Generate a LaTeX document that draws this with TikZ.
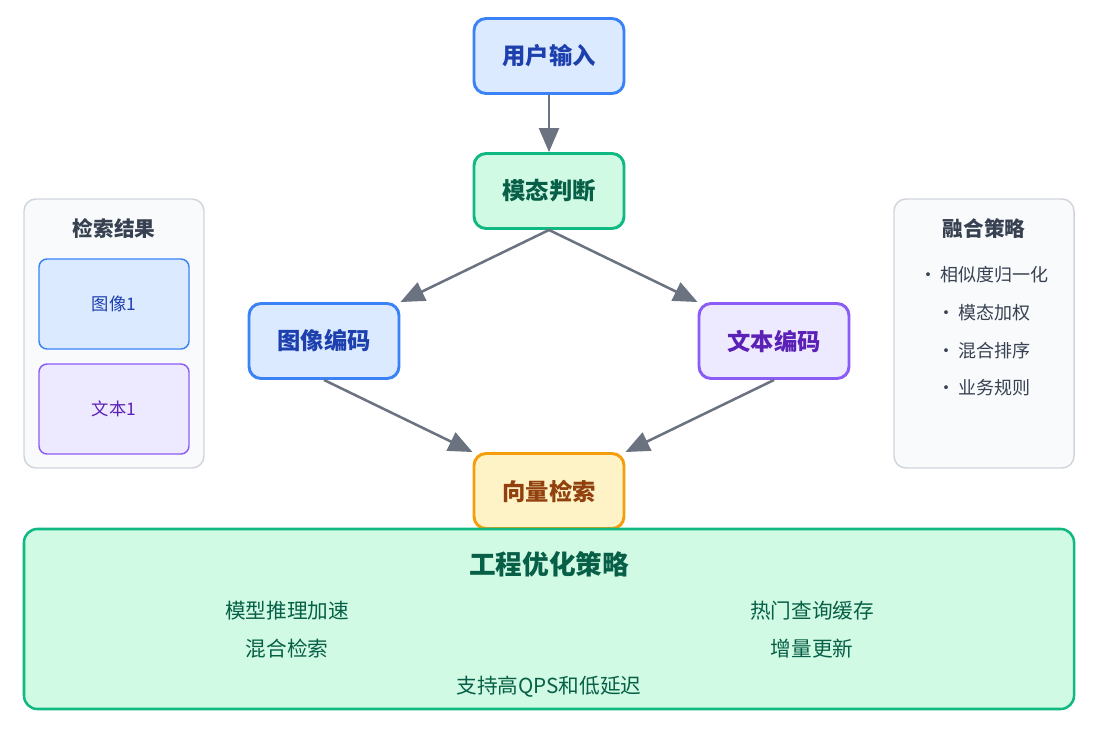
\documentclass[tikz,border=0pt]{standalone}
\usepackage{fontspec}
\setmainfont{Noto Sans CJK SC}
\usepackage{tikz}
\usetikzlibrary{arrows.meta}

\definecolor{blueFill}{HTML}{DBEAFE}
\definecolor{blueLine}{HTML}{3B82F6}
\definecolor{blueText}{HTML}{1E40AF}
\definecolor{greenFill}{HTML}{D1FAE5}
\definecolor{greenLine}{HTML}{10B981}
\definecolor{greenText}{HTML}{065F46}
\definecolor{purpleFill}{HTML}{EDE9FE}
\definecolor{purpleLine}{HTML}{8B5CF6}
\definecolor{purpleText}{HTML}{5B21B6}
\definecolor{orangeFill}{HTML}{FEF3C7}
\definecolor{orangeLine}{HTML}{F59E0B}
\definecolor{orangeText}{HTML}{92400E}
\definecolor{panelFill}{HTML}{F8FAFC}
\definecolor{panelLine}{HTML}{D1D5DB}
\definecolor{panelText}{HTML}{374151}
\definecolor{arrowGray}{HTML}{6B7280}

\begin{document}
\begin{tikzpicture}[x=0.75pt,y=-0.75pt,
  flow/.style={draw, line width=2.2pt, rounded corners=9pt, minimum width=112.5pt,
    minimum height=56.25pt, inner sep=0pt, font=\bfseries\fontsize{17.5}{21}\selectfont},
  panel/.style={draw=panelLine, fill=panelFill, line width=1.1pt, rounded corners=9pt,
    minimum width=135pt, minimum height=201.75pt, inner sep=0pt},
  tag/.style={draw, line width=1.1pt, rounded corners=6pt, minimum width=112.5pt,
    minimum height=67.5pt, inner sep=0pt, font=\fontsize{13}{16}\selectfont},
  heading/.style={text=panelText, font=\bfseries\fontsize{15.5}{18}\selectfont},
  item/.style={text=panelText, font=\fontsize{13.5}{16}\selectfont},
  note/.style={text=greenText, font=\fontsize{15.5}{18}\selectfont},
  link/.style={draw=arrowGray, line width=1.9pt, -{Triangle[length=18pt,width=15pt]}}]

\useasboundingbox (0,0) rectangle (1102,738);

% main flow
\node[flow, fill=blueFill, draw=blueLine, text=blueText] (input) at (549,56) {用户输入};
\node[flow, fill=greenFill, draw=greenLine, text=greenText] (judge) at (549,191) {模态判断};
\node[flow, fill=blueFill, draw=blueLine, text=blueText] (imgenc) at (324,341) {图像编码};
\node[flow, fill=purpleFill, draw=purpleLine, text=purpleText] (txtenc) at (774,341) {文本编码};
\node[flow, fill=orangeFill, draw=orangeLine, text=orangeText] (search) at (549,491) {向量检索};

\draw[link] (input.south) -- (judge.north);
\draw[link] (judge.south) -- (imgenc.north east);
\draw[link] (judge.south) -- (txtenc.north west);
\draw[link] (imgenc.south) -- (search.north west);
\draw[link] (txtenc.south) -- (search.north east);

% left panel
\node[panel] (results) at (114,333.5) {};
\node[heading] (resultsTitle) at (114,229) {检索结果};
\node[tag, fill=blueFill, draw=blueLine, text=blueText] (imgres) at (114,304) {图像1};
\node[tag, fill=purpleFill, draw=purpleLine, text=purpleText] (txtres) at (114,409) {文本1};

% right panel
\node[panel] (fusion) at (984,333.5) {};
\node[heading] (fusionTitle) at (984,229) {融合策略};
\node[item] (norm) at (984,275) {•\kern2pt 相似度归一化};
\node[item] (weight) at (984,313) {•\kern2pt 模态加权};
\node[item] (rank) at (984,351) {•\kern2pt 混合排序};
\node[item] (rule) at (984,388) {•\kern2pt 业务规则};

% bottom box
\node[draw=greenLine, fill=greenFill, line width=1.9pt, rounded corners=10pt,
  minimum width=787.5pt, minimum height=135pt, inner sep=0pt] (engineering) at (549,619) {};
\node[text=greenText, font=\bfseries\fontsize{20}{24}\selectfont] (engTitle) at (549,564) {工程优化策略};
\node[note] (accel) at (287,611) {模型推理加速};
\node[note] (cache) at (812,611) {热门查询缓存};
\node[note] (hybrid) at (287,649) {混合检索};
\node[note] (update) at (812,649) {增量更新};
\node[note] (qps) at (549,687) {支持高QPS和低延迟};
\end{tikzpicture}
\end{document}
